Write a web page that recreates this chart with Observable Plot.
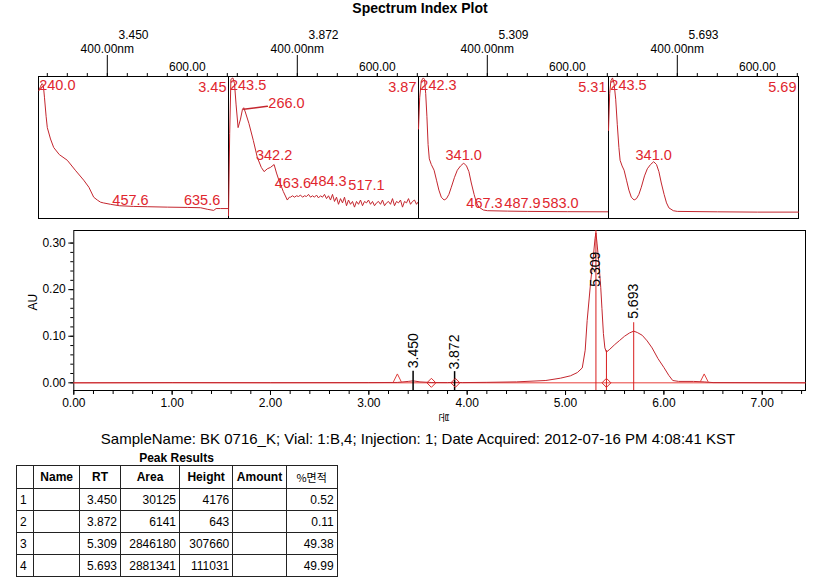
<!DOCTYPE html>
<html><head><meta charset="utf-8">
<script src="https://cdn.jsdelivr.net/npm/d3@7"></script>
<script src="https://cdn.jsdelivr.net/npm/@observablehq/plot@0.6"></script>
<style>
body{margin:0;background:#fff;font-family:Arial,"Liberation Sans","Noto Sans CJK KR",sans-serif;color:#000;}
#root{position:relative;width:830px;height:583px;overflow:hidden;background:#fff;}
.abs{position:absolute;}
#title{left:0;width:840px;top:0;text-align:center;font-weight:bold;font-size:14px;line-height:16px;}
#sample{left:0;width:836px;top:430px;text-align:center;font-size:15px;line-height:18px;}
#ptitle{left:16px;width:321px;top:451px;text-align:center;font-weight:bold;font-size:12px;line-height:15px;}
table{position:absolute;left:16px;top:465px;border-collapse:collapse;font-size:12px;}
td,th{border:1px solid #222;padding:0 3px;white-space:nowrap;}
th{height:22px;font-weight:bold;text-align:center;}
td{height:21px;text-align:right;}
td.l{text-align:left;}
th.k{font-weight:normal;font-family:"Noto Sans CJK KR",Arial,sans-serif;font-size:11px;}
</style></head>
<body><div id="root">
<div id="title" class="abs">Spectrum Index Plot</div>
<div id="sample" class="abs"></div>
<div id="ptitle" class="abs">Peak Results</div>
</div>
<script>
// ---------- Spectrum panels ----------
const specRT = ["3.450", "3.872", "5.309", "5.693"];
const specCorner = ["3.45", "3.87", "5.31", "5.69"];

const spec1Wl = [229,233,237,240,243,247,250,258,266,280,300,320,341,354,366,375,383,390,408,430,466,500,550,600,633,650,666,672,683,703];
const spec1Ab = [0.90,0.93,0.95,0.94,0.85,0.72,0.64,0.56,0.50,0.45,0.41,0.34,0.27,0.22,0.15,0.13,0.115,0.11,0.10,0.09,0.085,0.083,0.080,0.078,0.076,0.065,0.057,0.07,0.07,0.07];

const spec2Wl = [228,231,234,239,243,247,252,258,263,266,270,279,290,300,310,317,325,333,342,348,354,365,375,380,
 383,388,393,398,403,408,413,418,423,428,433,438,443,448,453,458,463,468,473,478,483,488,493,498,503,508,513,518,523,528,533,538,543,548,553,558,563,568,573,578,583,588,593,598,603,608,613,618,623,628,633,638,643,648,653,658,663,668,673,678,683,688,693,698,703];
const spec2Ab = [0.02,0.60,0.98,0.99,0.95,0.80,0.64,0.70,0.77,0.78,0.75,0.67,0.55,0.43,0.36,0.33,0.35,0.36,0.38,0.32,0.27,0.19,0.13,0.15,
 0.15,0.16,0.15,0.16,0.155,0.165,0.15,0.16,0.155,0.17,0.15,0.16,0.15,0.165,0.145,0.16,0.15,0.17,0.14,0.16,0.13,0.17,0.12,0.15,0.10,0.14,0.11,0.15,0.09,0.13,0.10,0.12,0.08,0.12,0.10,0.13,0.09,0.12,0.11,0.13,0.10,0.12,0.09,0.11,0.12,0.10,0.13,0.09,0.11,0.12,0.10,0.14,0.09,0.12,0.11,0.13,0.08,0.12,0.11,0.14,0.10,0.12,0.13,0.10,0.12];

const spec3Wl = [228,231,235,240,243,246,249,252,255,260,267,273,279,285,292,298,304,310,318,325,333,341,348,354,360,367,373,379,390,400,450,500,600,703];
const spec3Ab = [0.63,0.85,0.97,0.99,0.98,0.88,0.72,0.52,0.42,0.38,0.34,0.27,0.20,0.15,0.13,0.14,0.17,0.22,0.29,0.34,0.37,0.39,0.37,0.33,0.25,0.17,0.11,0.08,0.06,0.055,0.052,0.05,0.048,0.047];

const spec4Wl = [228,231,234,238,242,246,250,254,257,262,267,273,279,285,292,298,304,310,318,325,333,341,348,354,360,367,373,379,390,400,500,600,703];
const spec4Ab = [0.62,0.88,0.97,0.99,0.95,0.84,0.66,0.50,0.41,0.37,0.34,0.27,0.20,0.15,0.13,0.14,0.17,0.22,0.30,0.35,0.38,0.40,0.38,0.33,0.25,0.17,0.11,0.075,0.055,0.05,0.047,0.045,0.045];

// peak labels of each spectrum: text, wavelength of label centre, absorbance of label centre
const lab1Text = ["240.0","457.6","635.6"], lab1Wl = [275,458,637], lab1Ab = [0.937,0.127,0.127];
const lab2Text = ["243.5","266.0","342.2","463.6","484.3","517.1"], lab2Wl = [277,373,342,389,478,573], lab2Ab = [0.937,0.81,0.444,0.246,0.26,0.232];
const lab3Text = ["242.3","341.0","467.3","487.9","583.0"], lab3Wl = [278,341,393,488,583], lab3Ab = [0.937,0.444,0.106,0.106,0.106];
const lab4Text = ["243.5","341.0"], lab4Wl = [278,341], lab4Ab = [0.937,0.444];
const leader2Wl = [266, 325], leader2Ab = [0.77, 0.79];

const specWls = [spec1Wl, spec2Wl, spec3Wl, spec4Wl];
const specAbs = [spec1Ab, spec2Ab, spec3Ab, spec4Ab];
const labTexts = [lab1Text, lab2Text, lab3Text, lab4Text];
const labWls = [lab1Wl, lab2Wl, lab3Wl, lab4Wl];
const labAbs = [lab1Ab, lab2Ab, lab3Ab, lab4Ab];
const wlTicks = [250,300,350,400,450,500,550,600,650,700];

// ---------- Chromatogram ----------
const chromT  = [0,1.0,2.0,3.0,3.29,3.40,3.45,3.52,3.64,3.80,3.872,3.95,4.2,4.5,4.8,4.95,5.05,5.12,5.17,5.20,5.22,5.24,5.257,5.28,5.30,5.309,5.32,5.34,5.358,5.37,5.385,5.40,5.416,5.45,5.50,5.55,5.60,5.65,5.693,5.73,5.78,5.83,5.88,5.94,6.00,6.05,6.09,6.15,6.30,6.41,6.5,7.44];
const chromAU = [0,0.0005,0.0003,0.0005,0.0008,0.003,0.0042,0.002,0.0006,0.0005,0.0011,0.0005,0.001,0.002,0.005,0.010,0.015,0.022,0.032,0.07,0.134,0.18,0.22,0.265,0.31,0.322,0.30,0.255,0.205,0.16,0.106,0.075,0.066,0.072,0.082,0.091,0.100,0.107,0.111,0.108,0.102,0.090,0.075,0.052,0.033,0.016,0.005,0.003,0.003,0.002,0.0005,0];
const peakRT = [3.450, 3.872, 5.309, 5.693];
const peakLabelAU = [0.069, 0.066, 0.244, 0.175];
const blackTickRT = [3.450, 3.872], blackTickTop = [0.025, 0.024];
const dropRT = [5.416, 5.693], dropTop = [0.069, 0.129];
const fullDropRT = [5.309];
const startEndRT = [3.29, 6.41];
const diamondRT = [3.636, 3.88, 5.416];
const timeTicks = [0,1,2,3,4,5,6,7];
const auTicks = [0, 0.1, 0.2, 0.3];

// ---------- Peak table ----------
const tblIdx = ["1","2","3","4"];
const tblRT = ["3.450","3.872","5.309","5.693"];
const tblArea = ["30125","6141","2846180","2881341"];
const tblHeight = ["4176","643","307660","111031"];
const tblPct = ["0.52","0.11","49.38","49.99"];
const sampleLine = "SampleName: BK 0716_K; Vial: 1:B,4; Injection: 1; Date Acquired: 2012-07-16 PM 4:08:41 KST";

const FONT = "Arial, 'Liberation Sans', sans-serif";
const RED = "#e0262e", TRACE = "#c4262e";
const root = document.getElementById("root");

// spectra
for (let i = 0; i < 4; i++) {
  const data = specWls[i].map((w, j) => ({w, a: specAbs[i][j]}));
  const labels = labTexts[i].map((t, j) => ({t, w: labWls[i][j], a: labAbs[i][j]}));
  const marks = [
    Plot.frame({stroke: "#000"}),
    Plot.axisX({anchor: "top", ticks: wlTicks, tickSize: 4, tickFormat: () => "", label: null}),
    Plot.axisX({anchor: "top", ticks: [400], tickSize: 22, tickPadding: 2, tickFormat: () => "400.00nm", label: null}),
    Plot.axisX({anchor: "top", ticks: [600], tickSize: 4, tickPadding: 2, tickFormat: () => "600.00", label: null}),
    Plot.line(data, {x: "w", y: "a", stroke: TRACE, strokeWidth: 1}),
    Plot.text(labels, {x: "w", y: "a", text: "t", fill: RED, fontSize: 14.5, lineAnchor: "middle"}),
    Plot.text([specRT[i]], {frameAnchor: "top", dy: -46, text: d => d, fontSize: 12}),
    Plot.text([specCorner[i]], {frameAnchor: "top-right", dx: -2, dy: 5, lineAnchor: "top", text: d => d, fill: RED, fontSize: 14.5})
  ];
  if (i === 1) {
    marks.push(Plot.line(leader2Wl.map((w, j) => ({w, a: leader2Ab[j]})), {x: "w", y: "a", stroke: TRACE}));
  }
  const p = Plot.plot({
    width: 192, height: 200, marginLeft: 1, marginRight: 1, marginTop: 56, marginBottom: 2,
    x: {domain: [228, 703], label: null},
    y: {domain: [0, 1], axis: null},
    style: {fontFamily: FONT, fontSize: "12px", background: "transparent", overflow: "visible", color: "#000"},
    marks
  });
  p.style.position = "absolute";
  p.style.left = (37 + 190 * i) + "px";
  p.style.top = "20px";
  root.appendChild(p);
}

// chromatogram
const chromData = chromT.map((t, j) => ({t, au: chromAU[j]}));
const lambda = {draw(ctx, size) { const r = Math.sqrt(size / Math.PI); ctx.moveTo(-r, r); ctx.lineTo(0, -r); ctx.lineTo(r, r); }};
const diamond = {draw(ctx, size) { const r = Math.sqrt(size / Math.PI); ctx.moveTo(0, -r); ctx.lineTo(r, 0); ctx.lineTo(0, r); ctx.lineTo(-r, 0); ctx.closePath(); }};
const yMin = -0.0165, yMax = 0.327;
const chrom = Plot.plot({
  width: 830, height: 210, marginLeft: 73.3, marginRight: 25, marginTop: 10, marginBottom: 40,
  x: {domain: [0, 7.44], label: null},
  y: {domain: [yMin, yMax], label: null},
  style: {fontFamily: FONT, fontSize: "12px", background: "transparent", overflow: "visible", color: "#000"},
  marks: [
    Plot.frame({stroke: "#000"}),
    Plot.axisY({ticks: auTicks, tickFormat: d3.format(".2f"), tickSize: 5, tickPadding: 3, label: null}),
    Plot.axisY({ticks: d3.range(0, 16).map(k => k * 0.02), tickSize: 3, tickFormat: () => "", label: null}),
    Plot.axisX({ticks: timeTicks, tickFormat: d3.format(".2f"), tickSize: 5, tickPadding: 3, label: null}),
    Plot.axisX({ticks: d3.range(0, 38).map(k => k * 0.2), tickSize: 4, tickFormat: () => "", label: null}),
    Plot.ruleY([0], {stroke: "#e8403c", strokeWidth: 1}),
    Plot.line(chromData, {x: "t", y: "au", stroke: TRACE, strokeWidth: 1}),
    Plot.ruleX(fullDropRT, {stroke: "#d81e1e"}),
    Plot.ruleX(dropRT.map((t, j) => ({t, top: dropTop[j]})), {x: "t", y1: yMin, y2: "top", stroke: "#d81e1e"}),
    Plot.ruleX(blackTickRT.map((t, j) => ({t, top: blackTickTop[j]})), {x: "t", y1: yMin, y2: "top", stroke: "#000", strokeWidth: 1.5}),
    Plot.dot(startEndRT.map(t => ({t})), {x: "t", y: () => 0.0105, symbol: lambda, r: 4, stroke: "#e0403c", fill: "none", strokeWidth: 1}),
    Plot.dot(diamondRT.map(t => ({t})), {x: "t", y: () => 0, symbol: diamond, r: 4.5, stroke: "#d82a2a", fill: "none", strokeWidth: 1}),
    Plot.text(peakRT.map((t, j) => ({t, a: peakLabelAU[j], s: t.toFixed(3)})), {x: "t", y: "a", text: "s", rotate: -90, fontSize: 14, fill: "#000"}),
    Plot.text(["AU"], {frameAnchor: "left", dx: -41, rotate: -90, text: d => d, fontSize: 12}),
    Plot.text(["분"], {frameAnchor: "bottom", dy: 27, rotate: 90, text: d => d, fontSize: 11, fontFamily: "'Noto Sans CJK KR', sans-serif"})
  ]
});
chrom.style.position = "absolute";
chrom.style.left = "0px";
chrom.style.top = "220px";
root.appendChild(chrom);

// sample line & table
document.getElementById("sample").textContent = sampleLine;
const colW = [17.3, 45.7, 41, 59, 53.3, 53.4, 51];
const heads = ["", "Name", "RT", "Area", "Height", "Amount", "%면적"];
const table = document.createElement("table");
const hr = document.createElement("tr");
heads.forEach((h, k) => {
  const th = document.createElement("th");
  th.textContent = h;
  th.style.width = (colW[k] - 7) + "px";
  if (k === 6) th.className = "k";
  hr.appendChild(th);
});
table.appendChild(hr);
tblIdx.forEach((id, r) => {
  const tr = document.createElement("tr");
  [id, "", tblRT[r], tblArea[r], tblHeight[r], "", tblPct[r]].forEach((v, k) => {
    const td = document.createElement("td");
    td.textContent = v;
    if (k === 0) td.className = "l";
    tr.appendChild(td);
  });
  table.appendChild(tr);
});
root.appendChild(table);
</script>
</body></html>
